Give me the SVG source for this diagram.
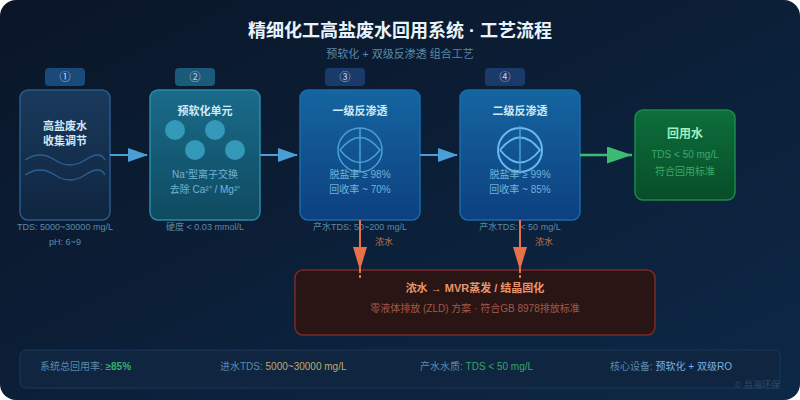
<svg xmlns="http://www.w3.org/2000/svg" width="800" height="400" viewBox="0 0 800 400">
<defs>
<linearGradient id="bg" x1="0" y1="0" x2="1" y2="1"><stop offset="0" stop-color="#0a1628"/><stop offset="1" stop-color="#0d2847"/></linearGradient>
<linearGradient id="g1" x1="0" y1="0" x2="0" y2="1"><stop offset="0" stop-color="#1a3a5c"/><stop offset="1" stop-color="#0f2540"/></linearGradient>
<linearGradient id="g2" x1="0" y1="0" x2="0" y2="1"><stop offset="0" stop-color="#1a6b8a"/><stop offset="1" stop-color="#0f4a60"/></linearGradient>
<linearGradient id="g3" x1="0" y1="0" x2="0" y2="1"><stop offset="0" stop-color="#1565a0"/><stop offset="1" stop-color="#0d4080"/></linearGradient>
<linearGradient id="g5" x1="0" y1="0" x2="0" y2="1"><stop offset="0" stop-color="#0d6e3c"/><stop offset="1" stop-color="#084d28"/></linearGradient>
<marker id="ab" markerUnits="userSpaceOnUse" markerWidth="20" markerHeight="16" refX="19" refY="7" orient="auto"><path d="M0 0L20 7L0 14Z" fill="#4a9fd4"/></marker>
<marker id="ag" markerUnits="userSpaceOnUse" markerWidth="26" markerHeight="18" refX="25" refY="8.5" orient="auto"><path d="M0 0L25 8.500L0 17Z" fill="#3dba74"/></marker>
<marker id="ar" markerUnits="userSpaceOnUse" markerWidth="14" markerHeight="23" refX="7" refY="23" orient="0"><path d="M0 0L14 0L7 23Z" fill="#e8714a"/></marker>
</defs>
<style>
text{font-family:"Liberation Sans","Noto Sans CJK SC",sans-serif;text-anchor:middle}
.t{font-size:11px;font-weight:700;fill:#d0e8f8}
.d{font-size:10px;fill:#74b2d4}
.c{font-size:9px;fill:#5a8aaa}
.n{font-size:11px;fill:#c0d8f0}
.k{font-size:10px;text-anchor:start;fill:#5a8aaa}
.gt{font-size:10px;fill:#3aaa6c}
.con{fill:none}
</style>
<rect width="800" height="400" fill="#fff"/>
<rect width="800" height="400" rx="16" fill="url(#bg)"/>
<text x="400" y="37" font-size="18" font-weight="700" fill="#e8f4fd">精细化工高盐废水回用系统 · 工艺流程</text>
<text x="400" y="58" font-size="11" fill="#5a8aaa">预软化 + 双级反渗透 组合工艺</text>

<g id="node1">
<rect x="45" y="68" width="40" height="18" rx="4" fill="#1a4a7a"/><text class="n" x="65" y="81">①</text>
<rect x="20" y="90" width="90" height="130" rx="8" fill="url(#g1)" stroke="#2a5a8c" stroke-width="1.500"/>
<text class="t" x="65" y="130">高盐废水</text><text class="t" x="65" y="145">收集调节</text>
<path class="con" d="M25 160Q40 150 55 160T85 160T105 160" stroke="#2a6090" stroke-width="1.500"/>
<path class="con" d="M25 175Q40 165 55 175T85 175T105 175" stroke="#2a6090" stroke-width="1.500"/>
<text class="c" x="65" y="230">TDS: 5000~30000 mg/L</text><text class="c" x="65" y="245">pH: 6~9</text>
</g>
<g id="node2">
<rect x="175" y="68" width="40" height="18" rx="4" fill="#1a5a7a"/><text class="n" x="195" y="81">②</text>
<rect x="150" y="90" width="110" height="130" rx="8" fill="url(#g2)" stroke="#2a8aaa" stroke-width="1.500"/>
<text class="t" x="205" y="115">预软化单元</text>
<g fill="#3498b8"><circle cx="175" cy="130" r="10"/><circle cx="215" cy="130" r="10"/><circle cx="195" cy="150" r="10"/><circle cx="235" cy="150" r="10"/></g>
<text class="d" x="205" y="178">Na⁺型离子交换</text><text class="d" x="205" y="193">去除 Ca²⁺ / Mg²⁺</text>
<text class="c" x="205" y="230">硬度 &lt; 0.03 mmol/L</text>
</g>
<g id="node3">
<rect x="325" y="68" width="40" height="18" rx="4" fill="#1a3a6a"/><text class="n" x="345" y="81">③</text>
<rect x="300" y="90" width="120" height="130" rx="8" fill="url(#g3)" stroke="#1a6aaa" stroke-width="1.500"/>
<text class="t" x="360" y="115">一级反渗透</text>
<g class="con" stroke="#4a9fd4" stroke-width="1.500"><circle cx="360" cy="150" r="22"/><path d="M340 150Q360 125 380 150Q360 175 340 150"/><path d="M360 128V172"/></g>
<text class="d" x="360" y="178">脱盐率 ≥ 98%</text><text class="d" x="360" y="193">回收率 ~ 70%</text>
<text class="c" x="360" y="230">产水TDS: 50~200 mg/L</text>
</g>
<g id="node4">
<rect x="485" y="68" width="40" height="18" rx="4" fill="#1a3a6a"/><text class="n" x="505" y="81">④</text>
<rect x="460" y="90" width="120" height="130" rx="8" fill="url(#g3)" stroke="#1a6aaa" stroke-width="1.500"/>
<text class="t" x="520" y="115">二级反渗透</text>
<g class="con" stroke="#6ab8f0" stroke-width="2"><circle cx="520" cy="150" r="22"/><path d="M500 150Q520 125 540 150Q520 175 500 150"/></g><path d="M520 126V174" stroke="#4a9fd4" stroke-width="1.500"/>
<text class="d" x="520" y="178">脱盐率 ≥ 99%</text><text class="d" x="520" y="193">回收率 ~ 85%</text>
<text class="c" x="520" y="230">产水TDS: &lt; 50 mg/L</text>
</g>
<g id="node5">
<rect x="635" y="110" width="100" height="90" rx="8" fill="url(#g5)" stroke="#1a8a4a" stroke-width="1.500"/>
<text x="685" y="138" font-size="12" font-weight="700" fill="#a0f0c0">回用水</text>
<text class="gt" x="685" y="158">TDS &lt; 50 mg/L</text><text class="gt" x="685" y="175">符合回用标准</text>
</g>
<g id="node6">
<rect x="295" y="270" width="360" height="65" rx="8" fill="#2a1515" stroke="#7a2a2a" stroke-width="1.500"/>
<text x="475" y="292" font-size="11" font-weight="700" fill="#e8956a">浓水 → MVR蒸发 / 结晶固化</text>
<text x="475" y="312" font-size="10" fill="#a05a4a">零液体排放 (ZLD) 方案 · 符合GB 8978排放标准</text>
</g>
<g id="connectors" class="con">
<path d="M110 155H147" stroke="#4a9fd4" stroke-width="2" marker-end="url(#ab)"/>
<path d="M260 155H297" stroke="#4a9fd4" stroke-width="2" marker-end="url(#ab)"/>
<path d="M420 155H457" stroke="#4a9fd4" stroke-width="2" marker-end="url(#ab)"/>
<path d="M580 155H632" stroke="#3dba74" stroke-width="2.500" marker-end="url(#ag)"/>
<path d="M360 220V270" stroke="#e8714a" stroke-width="2" marker-end="url(#ar)"/>
<path d="M520 220V270" stroke="#e8714a" stroke-width="2" marker-end="url(#ar)"/>
<path d="M360 270V280M520 270V280" stroke="#e8714a" stroke-width="2" stroke-dasharray="3 2"/>
</g>
<text x="384" y="245" font-size="9" fill="#c07050">浓水</text>
<text x="544" y="245" font-size="9" fill="#c07050">浓水</text>
<g id="summary">
<rect x="20" y="350" width="760" height="38" rx="6" fill="#0f2540" stroke="#1a3a5c"/>
<text class="k" x="40" y="370">系统总回用率: <tspan fill="#34ae6c" font-weight="700">≥85%</tspan></text>
<text class="k" x="220" y="370">进水TDS: <tspan fill="#c0a870">5000~30000 mg/L</tspan></text>
<text class="k" x="420" y="370">产水水质: <tspan fill="#2fa868">TDS &lt; 50 mg/L</tspan></text>
<text class="k" x="610" y="370">核心设备: <tspan fill="#7ab0e0">预软化 + 双级RO</tspan></text>
</g>
<text x="780" y="388" font-size="9" fill="#2a4a6a" style="text-anchor:end">© 昌海环保</text>
</svg>
